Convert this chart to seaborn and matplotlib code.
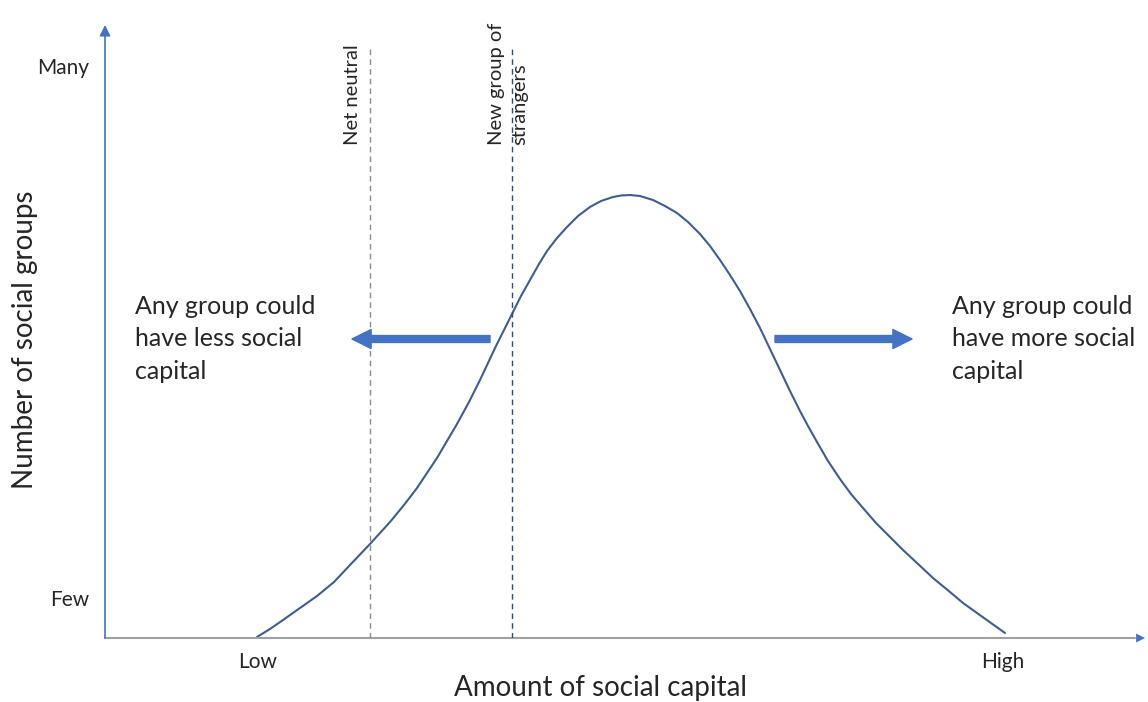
import pandas as pd
import matplotlib
matplotlib.use('Agg')
import matplotlib.pyplot as plt
import seaborn as sns

# Curva (x = capital social, y = número de grupos)
capital = [152, 165, 178, 195, 212, 229, 245, 265, 285, 299, 312, 332, 352, 364, 375, 391, 407,
           416, 425, 434, 442, 452, 462, 473, 485, 496, 508, 516, 525,
           535, 548, 560, 572, 583, 595, 605, 615, 625, 635, 645, 655, 665, 675, 685, 695,
           703, 712, 723, 735, 746, 758, 771, 785, 798, 812, 828, 845, 858, 872, 886, 900]
grupos = [1, 9, 18, 30, 42, 56, 73, 94, 116, 133, 150, 180, 214, 236, 258, 292, 324,
          342, 358, 374, 387, 400, 411, 422, 431, 437, 441, 442.5, 443,
          442, 438, 432, 425, 416, 404, 392, 378, 363, 347, 329, 310, 289, 268, 247, 227,
          212, 196, 177, 159, 144, 130, 115, 101, 88, 75, 60, 46, 35, 25, 15, 5]

# Linhas verticais e rótulos dos eixos
linhas_x = [265, 407]
linhas_rotulo = ['Net neutral', 'New group of\nstrangers']
ticks_y = ['Many', 'Few']
ticks_x = ['Low', 'High']

df = pd.DataFrame({'capital': capital, 'grupos': grupos})

sns.set_style('white')
plt.rcParams['font.family'] = ['Lato', 'DejaVu Sans']

fig = plt.figure(figsize=(11.48, 7.02), dpi=100)
ax = fig.add_axes([105 / 1148, 64 / 702, 1040 / 1148, 613 / 702])
ax.set_xlim(0, 1040)
ax.set_ylim(0, 613)
ax.axis('off')

azul = '#4472C4'

# Curva
sns.lineplot(data=df, x='capital', y='grupos', color='#3f5d8f', lw=1.5, ax=ax, sort=False)

# Eixos com setas
ax.plot([0, 1030], [0, 0], color='#a0a0a0', lw=1.5, clip_on=False)
ax.annotate('', xy=(1040, 0), xytext=(1026, 0), annotation_clip=False,
            arrowprops=dict(arrowstyle='-|>', color=azul, lw=0, mutation_scale=16, shrinkA=0, shrinkB=0))
ax.annotate('', xy=(0, 613), xytext=(0, 0), annotation_clip=False,
            arrowprops=dict(arrowstyle='-|>', color=azul, lw=1.2, mutation_scale=16, shrinkA=0, shrinkB=0))

# Linhas tracejadas
ax.plot([linhas_x[0]] * 2, [0, 590], color='#8c8c8c', lw=1, ls=(0, (4, 3)))
ax.plot([linhas_x[1]] * 2, [0, 590], color='#2f4b7c', lw=1, ls=(0, (4, 3)))
ax.text(linhas_x[0] - 18, 493, linhas_rotulo[0], rotation=90, ha='center', va='bottom', fontsize=14.5)
ax.text(linhas_x[1] - 4, 493, linhas_rotulo[1], rotation=90, ha='center', va='bottom',
        fontsize=14.5, multialignment='left', linespacing=1.4)

# Rótulos dos extremos
ax.text(-42, 570, ticks_y[0], ha='center', va='center', fontsize=15)
ax.text(-35, 38, ticks_y[1], ha='center', va='center', fontsize=15)
ax.text(153, -24, ticks_x[0], ha='center', va='center', fontsize=15)
ax.text(898, -24, ticks_x[1], ha='center', va='center', fontsize=15)

ax.text(495, -50, 'Amount of social capital', ha='center', va='center', fontsize=20)
ax.text(-80, 298, 'Number of social groups', ha='center', va='center', rotation=90, fontsize=20)

# Setas grossas e textos
estilo = 'simple,head_length=0.55,head_width=0.55,tail_width=0.2'
ax.annotate('', xy=(247, 299), xytext=(385, 299),
            arrowprops=dict(arrowstyle=estilo, color=azul, mutation_scale=25, shrinkA=0, shrinkB=0))
ax.annotate('', xy=(807, 299), xytext=(670, 299),
            arrowprops=dict(arrowstyle=estilo, color=azul, mutation_scale=25, shrinkA=0, shrinkB=0))
ax.text(30, 299, 'Any group could\nhave less social\ncapital', ha='left', va='center',
        fontsize=18, linespacing=1.48)
ax.text(847, 299, 'Any group could\nhave more social\ncapital', ha='left', va='center',
        fontsize=18, linespacing=1.48)

fig.savefig('out.png', dpi=100)
